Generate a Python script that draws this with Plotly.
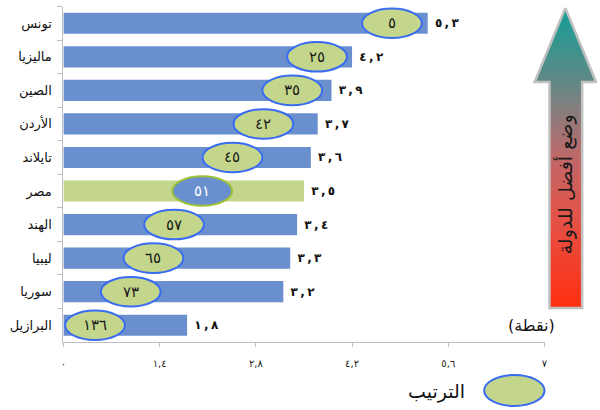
import plotly.graph_objects as go

# ---- data ----
countries = ["تونس", "ماليزيا", "الصين", "الأردن", "تايلاند", "مصر", "الهند", "ليبيا", "سوريا", "البرازيل"]
scores = [5.3, 4.2, 3.9, 3.7, 3.6, 3.5, 3.4, 3.3, 3.2, 1.8]
ranks = [5, 25, 35, 42, 45, 51, 57, 65, 73, 136]
rank_marker_x = [4.78, 3.69, 3.33, 2.91, 2.46, 2.02, 1.61, 1.31, 0.98, 0.46]
highlight = "مصر"
x_tickvals = [0, 1.4, 2.8, 4.2, 5.6, 7]
axis_unit = "(نقطة)"
legend_label = "الترتيب"
arrow_text = "وضع أفضل للدولة"

_tr = str.maketrans("0123456789.", "٠١٢٣٤٥٦٧٨٩,")


def ar(v, sep=","):
    s = ("%g" % v).translate(_tr)
    return s.replace(",", sep)


BLUE = "#6a8fcf"
GREEN = "#c3d68c"
EBORDER = "#3a6cf2"
GBORDER = "#9cc23a"
FONT = "DejaVu Sans"

W, H = 600, 410
x0p, x1p = 61, 547
ytop, ybot = 6.5, 342

fig = go.Figure()

NB = "\u00a0"
LRM = "\u200e"
TS = "\u2009"
bar_colors = [GREEN if c == highlight else BLUE for c in countries]
fig.add_trace(go.Bar(
    x=scores, y=countries, orientation="h",
    marker=dict(color=bar_colors, line=dict(width=0)),
    text=[NB + LRM + ar(v, LRM + TS + "," + TS + LRM) for v in scores],
    textposition="outside",
    textfont=dict(family=FONT, size=12, color="#111111", weight="bold"),
    cliponaxis=False, hoverinfo="skip", showlegend=False,
    xaxis="x", yaxis="y",
))

shapes = []
annotations = []
hw, hh = 0.435, 0.44
for i, (c, r, mx) in enumerate(zip(countries, ranks, rank_marker_x)):
    is_h = c == highlight
    shapes.append(dict(
        type="circle", xref="x", yref="y",
        x0=mx - hw, x1=mx + hw, y0=i - hh, y1=i + hh,
        fillcolor=BLUE if is_h else GREEN,
        line=dict(color=GBORDER if is_h else EBORDER, width=2),
        layer="above",
    ))
    annotations.append(dict(
        x=mx, y=i, xref="x", yref="y", text=ar(r), showarrow=False,
        font=dict(family=FONT, size=15, color="white" if is_h else "#1a1a1a"),
    ))

# ---- decorative overlay (pixel coordinates) ----
arrow_pts = [(568, 8), (599, 82), (585, 82), (585, 308), (552, 308), (552, 82), (537, 82), (568, 8)]
fig.add_trace(go.Scatter(
    x=[p[0] for p in arrow_pts], y=[H - p[1] for p in arrow_pts],
    mode="lines", fill="toself",
    line=dict(color="#c0c0c0", width=2.5),
    fillgradient=dict(type="vertical", colorscale=[
        [0.0, "#ff2e10"], [0.3, "#e45248"], [0.5, "#c06868"],
        [0.68, "#808080"], [0.76, "#5e8886"], [1.0, "#12a096"]]),
    hoverinfo="skip", showlegend=False, xaxis="x2", yaxis="y2",
))

annotations.append(dict(
    x=568, y=H - 184, xref="x2", yref="y2", text=arrow_text, textangle=-90,
    showarrow=False, font=dict(family=FONT, size=19, color="#1a1a1a"),
))
annotations.append(dict(
    x=560, y=H - 325, xref="x2", yref="y2", text=axis_unit, xanchor="right",
    showarrow=False, font=dict(family=FONT, size=16, color="#111111"),
))
# legend
shapes.append(dict(
    type="circle", xref="x2", yref="y2", x0=486, x1=547, y0=H - 406, y1=H - 375,
    fillcolor=GREEN, line=dict(color=EBORDER, width=2),
))
annotations.append(dict(
    x=469, y=H - 391, xref="x2", yref="y2", text=legend_label, xanchor="right",
    showarrow=False, font=dict(family=FONT, size=19, color="#111111"),
))

fig.update_layout(
    width=W, height=H, margin=dict(l=0, r=0, t=0, b=0),
    paper_bgcolor="white", plot_bgcolor="rgba(0,0,0,0)",
    bargap=0.37,
    xaxis=dict(
        domain=[x0p / W, x1p / W], range=[0, 7],
        tickvals=x_tickvals, ticktext=[ar(v) for v in x_tickvals],
        showgrid=False, zeroline=False, showline=True, linecolor="#bfbfbf", linewidth=1,
        ticks="outside", ticklen=4, tickcolor="#bfbfbf", ticklabelstandoff=8,
        tickfont=dict(family=FONT, size=10, color="#222222"),
        anchor="y",
    ),
    yaxis=dict(
        domain=[(H - ybot) / H, (H - ytop) / H],
        autorange="reversed", type="category",
        showgrid=False, zeroline=False, showline=True, linecolor="#bfbfbf", linewidth=1,
        ticks="outside", ticklen=5, tickcolor="#bfbfbf", tickson="boundaries",
        ticklabelstandoff=8,
        tickfont=dict(family=FONT, size=13, color="#111111"),
        anchor="x",
    ),
    xaxis2=dict(domain=[0, 1], range=[0, W], visible=False, anchor="y2", fixedrange=True),
    yaxis2=dict(domain=[0, 1], range=[0, H], visible=False, anchor="x2", fixedrange=True),
    shapes=shapes, annotations=annotations,
)

fig.write_html("out.html")
